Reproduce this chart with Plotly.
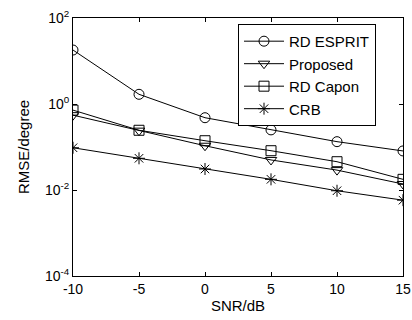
import plotly.graph_objects as go

snr = [-10, -5, 0, 5, 10, 15]
rd_esprit = [18.0, 1.68, 0.48, 0.25, 0.133, 0.081]
proposed = [0.55, 0.24, 0.107, 0.05, 0.029, 0.0138]
rd_capon = [0.72, 0.245, 0.14, 0.082, 0.0455, 0.0177]
crb = [0.096, 0.0546, 0.0308, 0.0177, 0.0096, 0.0058]

series = [
    ("RD ESPRIT", rd_esprit, "circle-open"),
    ("Proposed", proposed, "triangle-down-open"),
    ("RD Capon", rd_capon, "square-open"),
    ("CRB", crb, "asterisk-open"),
]

ytickvals = [1e-4, 1e-2, 1e0, 1e2]
yticktext = ["10<sup>-4</sup>", "10<sup>-2</sup>", "10<sup>0</sup>", "10<sup>2</sup>"]
xtickvals = [-10, -5, 0, 5, 10, 15]
xticktext = ["-10", "-5", "0", "5", "10", "15"]

fig = go.Figure()
for name, vals, sym in series:
    fig.add_trace(go.Scatter(
        x=snr, y=vals, name=name, mode="lines+markers",
        line=dict(color="black", width=1),
        marker=dict(symbol=sym, size=10, color="black",
                    line=dict(color="black", width=1)),
    ))

axis_common = dict(
    showgrid=False, zeroline=False, showline=True, linecolor="black",
    linewidth=1, mirror="allticks", ticks="inside", ticklen=4,
    tickcolor="black", ticklabeloverflow="allow", automargin=False,
    tickfont=dict(family="Liberation Sans, Arial", size=14, color="black"),
)

fig.update_layout(
    width=412, height=320,
    margin=dict(l=73, r=9, t=18, b=44),
    paper_bgcolor="white", plot_bgcolor="white",
    font=dict(family="Liberation Sans, Arial", size=14, color="black"),
    xaxis=dict(range=[-10, 15], tickvals=xtickvals, ticktext=xticktext,
               title=dict(text="SNR/dB", font=dict(size=15), standoff=4),
               **axis_common),
    yaxis=dict(type="log", range=[-4, 2], tickvals=ytickvals, ticktext=yticktext,
               title=dict(text="RMSE/degree", font=dict(size=15), standoff=11),
               **axis_common),
    legend=dict(x=0.5, y=0.977, xanchor="left", yanchor="top",
                bgcolor="white", bordercolor="black", borderwidth=1,
                font=dict(size=15), tracegroupgap=0, itemwidth=40),
    showlegend=True,
)

fig.write_html(
    "out.html",
    config={"displayModeBar": False},
    post_script="document.body.style.margin='0';document.body.style.padding='0';document.body.style.overflow='hidden';",
)
